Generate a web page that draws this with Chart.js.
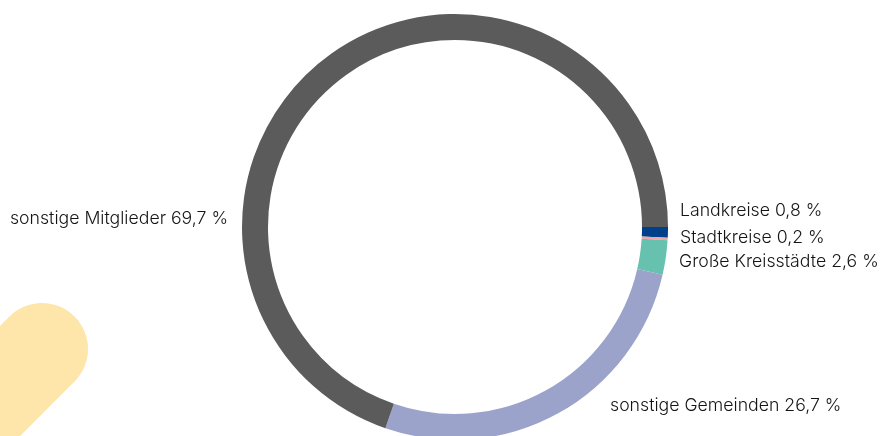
<!DOCTYPE html>
<html>
<head>
<meta charset="utf-8">
<script src="https://cdn.jsdelivr.net/npm/chart.js@4/dist/chart.umd.min.js"></script>
<style>
html,body{margin:0;padding:0;background:#fff;overflow:hidden;}
#wrap{position:relative;width:883px;height:445px;}
</style>
</head>
<body>
<div id="wrap"><canvas id="c"></canvas></div>
<script>
const categories = ["Landkreise", "Stadtkreise", "Große Kreisstädte", "sonstige Gemeinden", "sonstige Mitglieder"];
const values = [0.8, 0.2, 2.6, 26.7, 69.7];
const valueLabels = ["0,8 %", "0,2 %", "2,6 %", "26,7 %", "69,7 %"];
const colors = ["#003f8a", "#f4a3a3", "#66c2ae", "#9ba3cb", "#5b5b5b"];

const FONT = '300 17.7px Inter, "Open Sans", sans-serif';

const bgShape = {
  id: 'bgShape',
  beforeDraw(chart) {
    const ctx = chart.ctx;
    ctx.save();
    ctx.strokeStyle = '#fee5a9';
    ctx.lineWidth = 92;
    ctx.lineCap = 'round';
    ctx.beginPath();
    ctx.moveTo(42, 349);
    ctx.lineTo(-120, 511);
    ctx.stroke();
    ctx.restore();
  }
};

// label anchor offsets relative to chart centre (layout only)
const labelLayout = [
  {dx: 225, dy: -16, align: 'left'},
  {dx: 225, dy: 11, align: 'left'},
  {dx: 224, dy: 35, align: 'left'},
  {dx: 155, dy: 179, align: 'left'},
  {dx: -227, dy: -8, align: 'right'}
];

const labelsPlugin = {
  id: 'labelsPlugin',
  afterDraw(chart) {
    const ctx = chart.ctx;
    const arc = chart.getDatasetMeta(0).data[0];
    const cx = arc.x, cy = arc.y;
    ctx.save();
    ctx.font = FONT;
    ctx.fillStyle = '#141414';
    ctx.textBaseline = 'middle';
    categories.forEach((c, i) => {
      const l = labelLayout[i];
      ctx.textAlign = l.align;
      ctx.fillText(c + ' ' + valueLabels[i], cx + l.dx, cy + l.dy);
    });
    ctx.restore();
  }
};

new Chart(document.getElementById('c'), {
  type: 'doughnut',
  data: {
    labels: categories,
    datasets: [{
      data: values,
      backgroundColor: colors,
      borderWidth: 0
    }]
  },
  options: {
    responsive: true,
    maintainAspectRatio: false,
    animation: false,
    rotation: 90,
    cutout: '87.8%',
    layout: {padding: {left: 27, right: 0, top: 14, bottom: 5}},
    plugins: {legend: {display: false}, tooltip: {enabled: false}}
  },
  plugins: [bgShape, labelsPlugin]
});
</script>
</body>
</html>
